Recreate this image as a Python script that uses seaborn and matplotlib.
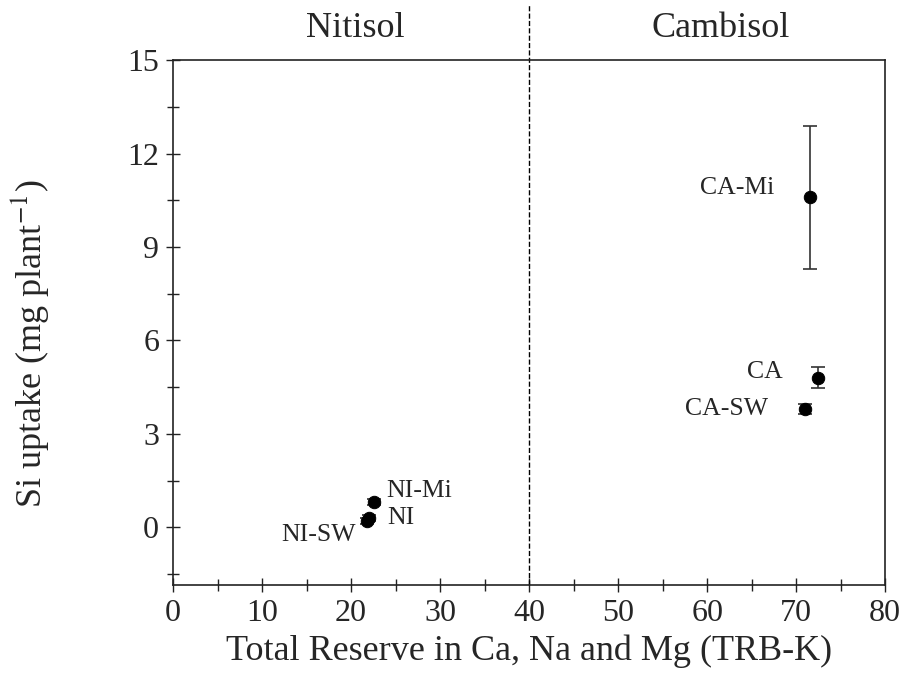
import numpy as np
import pandas as pd
import matplotlib
matplotlib.use('Agg')
import matplotlib.pyplot as plt
import seaborn as sns
from matplotlib.ticker import MultipleLocator

# values
labels = ['NI-SW', 'NI', 'NI-Mi', 'CA-SW', 'CA', 'CA-Mi']
trb = [21.8, 22.0, 22.6, 71.0, 72.5, 71.6]
si_uptake = [0.2, 0.3, 0.8, 3.8, 4.8, 10.6]
si_err = [0.1, 0.1, 0.1, 0.15, 0.33, 2.3]
soil_names = ['Nitisol', 'Cambisol']

df = pd.DataFrame({'label': labels, 'trb': trb, 'si': si_uptake, 'err': si_err})

sns.set_style('white')
plt.rcParams['font.family'] = ['Liberation Serif', 'DejaVu Serif']
plt.rcParams['mathtext.fontset'] = 'stix'

fig = plt.figure(figsize=(9.06, 6.84), dpi=100)
ax = fig.add_axes([0.191, 0.145, 0.786, 0.767])

ax.errorbar(df['trb'], df['si'], yerr=df['err'], fmt='none', ecolor='#333333',
            elinewidth=1.2, capsize=5, capthick=1.2, zorder=2)
sns.scatterplot(data=df, x='trb', y='si', color='black', s=80, edgecolor='black',
                legend=False, ax=ax, zorder=3)

# label placement (offset in points, alignment)
offsets = {
    'NI-SW': (-8, -10, 'right'),
    'NI': (13, 0, 'left'),
    'NI-Mi': (9, 8, 'left'),
    'CA-SW': (-27, 0, 'right'),
    'CA': (-26, 4, 'right'),
    'CA-Mi': (-26, 6.5, 'right'),
}
for _, r in df.iterrows():
    dx, dy, ha = offsets[r['label']]
    ax.annotate(r['label'], (r['trb'], r['si']), xytext=(dx, dy),
                textcoords='offset points', ha=ha, va='center', fontsize=18.5)

ax.set_xlim(0, 80)
ax.set_ylim(-1.85, 15)
ax.xaxis.set_major_locator(MultipleLocator(10))
ax.xaxis.set_minor_locator(MultipleLocator(5))
ax.yaxis.set_major_locator(MultipleLocator(3))
ax.yaxis.set_minor_locator(MultipleLocator(1.5))
ax.tick_params(which='both', direction='inout', bottom=True, left=True,
               top=False, right=False, labelsize=23, color='#222222', pad=5)
ax.tick_params(which='major', length=10, width=1)
ax.tick_params(which='minor', length=8, width=1)
for sp in ax.spines.values():
    sp.set_color('#222222')
    sp.set_linewidth(1.2)

ax.axvline(40, ymin=0, ymax=1.105, color='black', linestyle='--', linewidth=1, clip_on=False)

ax.text(20.5, 1.06, soil_names[0], transform=ax.get_xaxis_transform(), ha='center', va='center', fontsize=26)
ax.text(61.5, 1.06, soil_names[1], transform=ax.get_xaxis_transform(), ha='center', va='center', fontsize=26)

ax.set_xlabel('Total Reserve in Ca, Na and Mg (TRB-K)', fontsize=26)
ax.set_ylabel('Si uptake (mg plant$^{-1}$)', fontsize=26)
ax.xaxis.set_label_coords(0.5, -0.094)
ax.yaxis.set_label_coords(-0.172, 0.46)

fig.savefig('out.png', dpi=100)
